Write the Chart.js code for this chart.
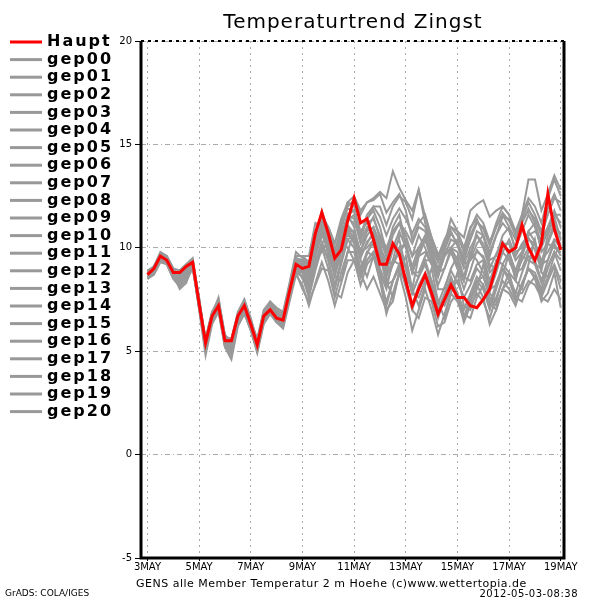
<!DOCTYPE html>
<html>
<head>
<meta charset="utf-8">
<script src="https://cdn.jsdelivr.net/npm/chart.js@4.4.1/dist/chart.umd.min.js"></script>
<style>
    body { margin: 0; background: #fff; }
    canvas { display: block; }
</style>
</head>
<body>
<canvas id="trendChart" width="600" height="600"></canvas>
<script>
// x-Achse: Index in 6-Stunden-Schritten ab 3MAY 00z
const dayTicks = [0, 8, 16, 24, 32, 40, 48, 56, 64];
const dayLabels = ['3MAY', '5MAY', '7MAY', '9MAY', '11MAY', '13MAY', '15MAY', '17MAY', '19MAY'];
const yTicks = [-5, 0, 5, 10, 15, 20];

// Hauptlauf (rot)
const haupt = [8.7, 9.0, 9.6, 9.4, 8.8, 8.8, 9.1, 9.3, 7.3, 5.4, 6.7, 7.2, 5.5, 5.5, 6.7, 7.2,
    6.3, 5.3, 6.7, 7.0, 6.6, 6.5, 7.9, 9.2, 9.0, 9.1, 10.7, 11.7, 10.7, 9.5, 9.9, 11.3,
    12.4, 11.2, 11.4, 10.4, 9.2, 9.2, 10.2, 9.7, 8.4, 7.2, 8.0, 8.7, 7.8, 6.8, 7.5, 8.2,
    7.6, 7.6, 7.2, 7.1, 7.5, 8.0, 9.1, 10.2, 9.8, 10.0, 11.1, 10.0, 9.4, 10.2, 12.6, 10.9, 9.9];

// Ensemble-Member (grau)
const gep00 = [8.6, 8.9, 9.5, 9.5, 8.9, 8.7, 9.0, 9.4, 7.5, 5.2, 6.5, 7.4, 5.6, 5.3, 6.5, 7.3,
    6.4, 5.5, 6.9, 7.2, 6.8, 6.6, 7.7, 8.9, 9.1, 8.6, 10.2, 11.3, 10.5, 9.0, 10.2, 11.6,
    11.8, 10.4, 11.0, 10.6, 9.6, 8.8, 9.9, 10.4, 9.0, 7.8, 8.6, 9.4, 8.4, 7.3, 8.1, 8.9,
    8.3, 7.6, 8.2, 9.0, 8.6, 7.9, 8.8, 9.8, 9.4, 8.6, 9.6, 10.5, 9.9, 8.9, 10.3, 11.2, 10.0];
const gep01 = [8.8, 9.1, 9.7, 9.6, 9.0, 8.6, 8.9, 9.2, 7.2, 5.6, 6.9, 7.5, 5.8, 5.4, 6.8, 7.4,
    6.5, 5.6, 7.0, 7.4, 7.0, 6.8, 8.2, 9.5, 9.4, 9.2, 10.6, 11.5, 11.0, 10.2, 11.2, 12.0,
    12.3, 11.6, 12.2, 12.4, 12.7, 12.4, 13.7, 12.9, 12.3, 11.8, 12.8, 11.2, 10.3, 9.6, 10.4, 11.0,
    10.6, 9.8, 10.9, 11.6, 11.2, 10.3, 11.0, 11.7, 11.3, 10.6, 11.4, 12.2, 11.6, 10.8, 11.9, 12.6, 11.8];
const gep02 = [8.7, 8.9, 9.6, 9.3, 8.6, 8.3, 8.7, 9.1, 7.4, 5.3, 6.6, 7.1, 5.3, 5.2, 6.6, 7.0,
    6.2, 5.2, 6.6, 7.1, 6.7, 6.4, 7.8, 9.3, 9.2, 8.7, 10.0, 10.9, 10.0, 8.9, 10.3, 11.1,
    10.7, 9.8, 10.9, 11.5, 10.4, 9.6, 10.8, 11.2, 10.2, 9.1, 10.0, 10.6, 9.8, 9.0, 9.9, 10.7,
    10.2, 9.6, 10.6, 11.3, 10.9, 10.1, 11.0, 11.6, 11.0, 10.4, 11.6, 13.3, 13.3, 11.8, 12.6, 13.5, 12.8];
const gep03 = [8.5, 8.8, 9.4, 9.2, 8.5, 8.1, 8.4, 9.0, 7.1, 5.0, 6.4, 7.0, 5.2, 4.8, 6.3, 6.9,
    6.0, 5.0, 6.4, 6.8, 6.4, 6.2, 7.5, 8.8, 8.0, 7.4, 8.2, 9.0, 8.9, 7.8, 7.6, 8.8,
    9.4, 8.8, 8.0, 8.6, 7.8, 7.0, 7.4, 8.8, 8.4, 7.0, 6.6, 7.6, 7.4, 6.2, 6.4, 7.4,
    7.8, 6.8, 6.6, 7.6, 8.2, 7.4, 7.0, 8.0, 8.8, 7.6, 7.4, 8.2, 8.6, 7.4, 7.8, 8.8, 7.1];
const gep04 = [8.8, 9.0, 9.7, 9.5, 8.7, 8.0, 8.3, 9.2, 7.3, 5.5, 6.8, 7.6, 5.7, 5.6, 6.9, 7.5,
    6.6, 5.4, 6.8, 7.3, 6.9, 6.7, 8.0, 9.4, 9.3, 8.9, 10.4, 11.8, 10.8, 9.6, 10.8, 12.2,
    12.0, 10.6, 11.4, 11.8, 11.0, 9.8, 11.0, 11.6, 10.2, 8.8, 9.6, 10.4, 9.4, 8.2, 9.0, 9.8,
    9.0, 8.0, 8.9, 9.9, 9.5, 8.4, 9.3, 10.2, 9.7, 8.9, 9.8, 10.8, 10.3, 9.2, 10.6, 11.5, 10.4];
const gep05 = [8.6, 9.0, 9.5, 9.3, 8.8, 8.9, 9.2, 9.4, 7.6, 5.4, 6.6, 7.1, 5.4, 5.1, 6.4, 7.0,
    6.2, 5.1, 6.6, 7.1, 6.7, 6.3, 7.6, 9.0, 8.8, 8.3, 9.6, 10.6, 10.0, 8.8, 10.0, 11.3,
    11.6, 10.5, 11.4, 12.0, 12.0, 11.1, 12.0, 12.5, 12.2, 11.4, 12.8, 11.5, 10.5, 9.7, 10.0, 10.8,
    10.1, 9.2, 10.0, 10.6, 10.0, 9.0, 9.7, 10.3, 9.6, 8.7, 9.4, 10.0, 9.2, 8.3, 9.1, 9.8, 8.9];
const gep06 = [8.7, 9.0, 9.6, 9.5, 8.9, 8.6, 8.8, 9.3, 7.4, 5.3, 6.7, 7.3, 5.5, 5.0, 6.5, 7.2,
    6.3, 5.3, 6.8, 7.0, 6.5, 6.3, 7.7, 9.1, 8.5, 8.0, 9.4, 9.8, 10.4, 8.6, 8.4, 9.8,
    10.8, 9.4, 8.6, 9.6, 10.2, 8.4, 7.6, 8.8, 9.6, 8.0, 7.2, 8.2, 9.0, 7.4, 6.6, 7.8,
    8.8, 7.2, 7.0, 8.0, 9.2, 7.8, 7.4, 8.6, 9.8, 8.4, 8.0, 9.2, 10.4, 8.8, 8.6, 9.6, 10.2];
const gep07 = [8.6, 8.8, 9.5, 9.4, 8.8, 8.4, 8.9, 9.2, 7.2, 5.5, 6.8, 7.4, 5.6, 5.4, 6.7, 7.2,
    6.4, 5.4, 6.9, 7.3, 6.9, 6.6, 7.8, 9.2, 9.0, 8.6, 10.0, 11.0, 10.4, 9.5, 10.6, 11.4,
    11.2, 10.6, 11.6, 12.0, 11.5, 10.6, 11.4, 11.9, 11.4, 10.7, 11.4, 11.0, 10.1, 9.3, 10.2, 11.0,
    10.8, 10.5, 11.8, 12.1, 12.3, 11.5, 11.8, 12.0, 11.6, 10.6, 11.2, 11.9, 11.2, 10.2, 11.0, 11.8, 11.0];
const gep08 = [8.9, 9.1, 9.8, 9.6, 9.0, 8.9, 9.2, 9.5, 7.5, 5.4, 6.7, 7.3, 5.5, 5.5, 6.8, 7.3,
    6.4, 5.4, 6.7, 7.1, 6.7, 6.5, 8.0, 9.6, 9.6, 9.3, 10.8, 11.6, 10.6, 9.3, 10.4, 11.6,
    11.0, 9.6, 10.2, 10.8, 9.8, 8.8, 9.2, 10.0, 10.2, 8.8, 8.8, 9.6, 10.0, 8.8, 9.0, 10.0,
    10.4, 9.2, 9.4, 10.2, 10.6, 9.4, 9.6, 10.6, 11.0, 9.8, 10.0, 10.8, 11.2, 9.8, 10.2, 11.0, 10.7];
const gep09 = [8.5, 8.7, 9.3, 9.2, 8.5, 8.2, 8.5, 9.1, 7.0, 4.8, 6.3, 6.9, 5.2, 4.6, 6.2, 6.8,
    6.0, 4.9, 6.3, 6.8, 6.4, 6.1, 7.4, 8.7, 8.2, 7.2, 8.3, 9.3, 8.4, 7.2, 8.3, 9.4,
    9.4, 8.2, 9.2, 9.6, 8.4, 7.4, 8.4, 9.2, 8.1, 7.0, 8.0, 8.6, 7.6, 6.6, 7.6, 8.4,
    7.8, 7.0, 7.8, 8.6, 8.2, 7.2, 8.3, 9.0, 8.4, 7.5, 8.3, 9.0, 8.5, 7.6, 8.4, 9.1, 8.0];
const gep10 = [8.7, 9.0, 9.6, 9.4, 8.7, 8.5, 8.9, 9.3, 7.3, 5.4, 6.7, 7.3, 5.5, 5.4, 6.7, 7.3,
    6.3, 5.3, 6.7, 7.0, 6.6, 6.4, 7.8, 9.1, 9.3, 8.5, 9.2, 10.2, 10.6, 9.0, 9.4, 10.8,
    10.2, 8.8, 9.7, 10.4, 9.6, 8.6, 9.4, 10.6, 10.4, 9.6, 10.6, 10.0, 9.2, 8.6, 9.8, 9.9,
    9.0, 8.4, 9.6, 10.6, 10.2, 9.2, 9.0, 9.8, 10.4, 9.6, 10.2, 10.6, 10.8, 10.4, 11.0, 11.6, 11.6];
const gep11 = [8.8, 9.1, 9.7, 9.5, 8.9, 8.7, 9.0, 9.4, 7.4, 5.6, 6.9, 7.4, 5.7, 5.5, 6.8, 7.5,
    6.5, 5.5, 6.9, 7.4, 7.1, 6.9, 8.3, 9.8, 9.5, 9.2, 10.6, 11.6, 11.0, 10.2, 11.4, 12.2,
    12.5, 11.8, 12.2, 12.3, 12.6, 11.7, 12.2, 12.6, 11.8, 10.4, 11.2, 11.6, 10.5, 9.4, 10.2, 11.4,
    10.8, 10.0, 11.0, 11.4, 10.6, 9.6, 10.6, 11.5, 11.4, 10.7, 11.3, 11.8, 11.4, 10.6, 11.6, 12.4, 12.2];
const gep12 = [8.6, 8.9, 9.5, 9.3, 8.6, 8.4, 8.8, 9.2, 7.2, 5.2, 6.5, 7.2, 5.4, 5.3, 6.6, 7.1,
    6.2, 5.2, 6.6, 6.9, 6.5, 6.4, 7.7, 8.9, 8.8, 8.0, 9.3, 10.3, 9.4, 8.0, 9.2, 10.4,
    10.6, 9.5, 10.3, 10.6, 9.6, 8.3, 9.2, 10.0, 9.0, 7.8, 8.6, 9.2, 8.2, 7.0, 7.8, 8.6,
    7.8, 6.6, 7.4, 8.2, 7.6, 6.3, 7.0, 8.0, 7.8, 7.2, 8.2, 9.0, 8.8, 8.0, 9.0, 9.8, 9.4];
const gep13 = [8.7, 9.0, 9.6, 9.5, 8.8, 8.6, 9.0, 9.3, 7.3, 5.3, 6.6, 7.2, 5.4, 5.2, 6.6, 7.2,
    6.3, 5.2, 6.6, 7.0, 6.6, 6.4, 7.9, 9.4, 9.4, 9.0, 9.8, 10.6, 10.8, 10.0, 10.2, 10.6,
    10.4, 9.8, 10.0, 10.4, 10.6, 10.0, 10.8, 11.2, 10.6, 9.6, 10.0, 10.4, 10.0, 9.4, 9.6, 10.0,
    9.8, 9.0, 9.4, 9.8, 9.6, 8.8, 9.2, 10.2, 10.2, 9.4, 9.8, 10.4, 10.2, 9.4, 9.8, 10.4, 10.0];
const gep14 = [8.6, 8.9, 9.5, 9.4, 8.7, 8.4, 8.7, 9.2, 7.2, 5.1, 6.4, 7.0, 5.3, 4.9, 6.4, 7.0,
    6.1, 5.1, 6.5, 6.9, 6.4, 6.2, 7.6, 8.8, 8.6, 7.6, 8.9, 10.0, 9.0, 7.6, 8.8, 9.8,
    9.8, 8.6, 9.4, 9.8, 8.4, 6.8, 7.8, 8.8, 7.6, 6.0, 7.0, 8.0, 7.0, 5.8, 6.8, 7.8,
    7.4, 6.6, 7.6, 8.4, 8.0, 7.0, 8.0, 9.0, 8.6, 7.8, 8.8, 9.6, 9.4, 8.4, 9.4, 10.2, 9.6];
const gep15 = [8.8, 9.0, 9.6, 9.4, 8.8, 8.8, 9.0, 9.3, 7.3, 5.4, 6.7, 7.3, 5.6, 5.6, 6.8, 7.3,
    6.4, 5.4, 6.8, 7.2, 6.8, 6.6, 8.0, 9.6, 9.6, 9.6, 11.2, 11.0, 9.6, 8.8, 10.4, 10.0,
    9.4, 8.6, 9.8, 9.6, 8.8, 8.0, 9.4, 9.2, 8.6, 8.0, 9.6, 9.8, 9.2, 8.8, 10.0, 9.8,
    9.2, 8.6, 9.8, 9.4, 8.8, 8.2, 9.4, 9.2, 8.8, 8.4, 9.6, 9.4, 9.2, 9.0, 10.2, 10.0, 9.8];
const gep16 = [8.7, 9.0, 9.6, 9.4, 8.8, 8.7, 9.1, 9.4, 7.5, 5.6, 6.8, 7.2, 5.5, 5.4, 6.7, 7.1,
    6.3, 5.3, 6.7, 7.1, 6.7, 6.5, 7.9, 9.3, 9.1, 8.7, 10.0, 11.0, 10.2, 9.4, 10.6, 11.6,
    11.4, 10.2, 10.8, 11.0, 10.2, 9.0, 10.0, 10.8, 10.0, 8.8, 9.8, 10.4, 9.6, 8.6, 9.6, 10.4,
    10.2, 9.4, 10.4, 11.2, 11.0, 10.2, 11.2, 12.0, 11.6, 10.8, 11.6, 12.4, 12.0, 11.2, 12.4, 13.3, 12.5];
const gep17 = [8.6, 8.9, 9.6, 9.4, 8.7, 8.6, 9.0, 9.3, 7.4, 5.3, 6.6, 7.2, 5.4, 5.2, 6.6, 7.2,
    6.3, 5.2, 6.7, 7.1, 6.7, 6.4, 7.7, 9.0, 8.8, 8.2, 9.6, 10.8, 10.2, 9.0, 10.2, 11.0,
    10.4, 9.0, 9.8, 10.2, 9.0, 8.2, 8.4, 9.0, 9.2, 7.8, 7.6, 8.4, 8.4, 7.4, 7.2, 8.0,
    8.4, 7.6, 7.4, 8.4, 8.6, 7.6, 7.2, 8.0, 8.4, 7.8, 7.8, 8.4, 8.2, 7.6, 7.4, 8.0, 7.5];
const gep18 = [8.7, 9.0, 9.7, 9.5, 8.8, 8.3, 8.6, 9.2, 7.2, 5.4, 6.7, 7.3, 5.5, 5.3, 6.7, 7.3,
    6.4, 5.4, 6.8, 7.2, 6.7, 6.5, 7.8, 9.2, 9.2, 8.8, 10.2, 11.2, 10.6, 9.8, 11.0, 11.9,
    11.8, 10.8, 11.2, 11.4, 10.6, 9.6, 10.6, 11.2, 10.8, 10.2, 11.0, 10.8, 9.8, 8.8, 9.6, 10.0,
    9.4, 8.4, 9.6, 10.8, 10.6, 9.8, 10.6, 11.2, 10.8, 10.0, 10.8, 11.6, 11.0, 10.0, 10.8, 11.6, 11.2];
const gep19 = [8.6, 8.9, 9.5, 9.4, 8.8, 8.7, 9.0, 9.3, 7.3, 5.3, 6.6, 7.1, 5.4, 5.3, 6.6, 7.1,
    6.2, 5.2, 6.6, 7.0, 6.6, 6.4, 7.8, 9.1, 8.9, 8.4, 9.8, 10.8, 9.8, 8.6, 9.8, 10.8,
    10.8, 9.8, 10.6, 11.0, 10.0, 9.4, 9.2, 9.8, 10.2, 8.8, 8.6, 9.4, 9.4, 8.0, 8.0, 9.0,
    9.6, 8.6, 8.4, 9.2, 9.4, 8.0, 8.2, 9.2, 9.8, 8.8, 9.0, 9.8, 10.2, 9.2, 9.4, 10.4, 10.2];
const gep20 = [8.5, 8.8, 9.4, 9.3, 8.6, 8.4, 8.7, 9.1, 7.1, 5.1, 6.5, 7.1, 5.3, 5.0, 6.4, 7.0,
    6.1, 5.0, 6.5, 6.9, 6.5, 6.3, 7.6, 8.9, 8.6, 7.8, 9.0, 10.2, 9.4, 8.2, 9.4, 10.4,
    10.0, 8.6, 9.4, 9.8, 8.8, 7.2, 8.4, 9.2, 8.4, 7.2, 8.2, 8.8, 8.0, 6.8, 7.6, 8.4,
    7.6, 6.4, 7.2, 7.8, 7.4, 6.6, 7.6, 8.4, 8.0, 7.4, 8.2, 9.0, 8.6, 7.8, 8.6, 9.2, 8.4];

const members = [gep00, gep01, gep02, gep03, gep04, gep05, gep06, gep07, gep08, gep09, gep10,
    gep11, gep12, gep13, gep14, gep15, gep16, gep17, gep18, gep19, gep20];

const toPoints = (arr) => arr.map((v, i) => ({ x: i, y: v }));

const datasets = [{
    label: 'Haupt',
    data: toPoints(haupt),
    borderColor: 'rgb(255, 0, 0)',
    borderWidth: 3
}];
members.forEach((m, k) => {
    datasets.push({
        label: 'gep' + String(k).padStart(2, '0'),
        data: toPoints(m),
        borderColor: 'rgb(153, 153, 153)',
        borderWidth: 2
    });
});

// GrADS-artige Beschriftung, Legende und Rahmen
const gradsDecor = {
    id: 'gradsDecor',
    afterDraw(chart) {
        const { ctx, chartArea } = chart;
        ctx.save();

        // Rahmen
        ctx.strokeStyle = '#000';
        ctx.lineWidth = 3;
        ctx.setLineDash([]);
        ctx.beginPath();
        ctx.moveTo(chartArea.left, chartArea.top);
        ctx.lineTo(chartArea.left, chartArea.bottom);
        ctx.lineTo(chartArea.right, chartArea.bottom);
        ctx.lineTo(chartArea.right, chartArea.top);
        ctx.stroke();
        ctx.lineWidth = 2;
        ctx.setLineDash([3, 4]);
        ctx.beginPath();
        ctx.moveTo(chartArea.left, chartArea.top);
        ctx.lineTo(chartArea.right, chartArea.top);
        ctx.stroke();
        ctx.setLineDash([]);

        // Titel
        ctx.fillStyle = '#000';
        ctx.font = '20px "DejaVu Sans"';
        ctx.letterSpacing = '1px';
        ctx.textAlign = 'center';
        ctx.textBaseline = 'middle';
        ctx.fillText('Temperaturtrend Zingst', 353, 23);

        // Legende
        ctx.font = 'bold 16px "DejaVu Sans"';
        ctx.letterSpacing = '2px';
        ctx.textAlign = 'left';
        chart.data.datasets.forEach((ds, k) => {
            const y = 42 + k * 17.6;
            ctx.strokeStyle = ds.borderColor;
            ctx.lineWidth = 3;
            ctx.beginPath();
            ctx.moveTo(10, y);
            ctx.lineTo(42, y);
            ctx.stroke();
            ctx.fillStyle = '#000';
            ctx.fillText(ds.label, 47, y);
        });

        // Fusszeilen
        ctx.letterSpacing = '0.5px';
        ctx.font = '11px "DejaVu Sans"';
        ctx.fillText('GENS alle Member Temperatur 2 m Hoehe (c)www.wettertopia.de', 136, 584);
        ctx.font = '10px "DejaVu Sans"';
        ctx.textAlign = 'right';
        ctx.fillText('2012-05-03-08:38', 578, 594);
        ctx.font = '9px "DejaVu Sans"';
        ctx.letterSpacing = '0px';
        ctx.textAlign = 'left';
        ctx.fillText('GrADS: COLA/IGES', 5, 594);

        ctx.restore();
    }
};

new Chart(document.getElementById('trendChart'), {
    type: 'line',
    data: { datasets: datasets },
    options: {
        responsive: false,
        animation: false,
        layout: { padding: { left: 101, right: 36, top: 41, bottom: 0 } },
        elements: {
            point: { radius: 0 },
            line: { tension: 0 }
        },
        plugins: {
            legend: { display: false },
            tooltip: { enabled: false }
        },
        scales: {
            x: {
                type: 'linear',
                min: -1,
                max: 64.5,
                afterBuildTicks: (scale) => {
                    scale.ticks = dayTicks.map(v => ({ value: v }));
                },
                afterFit: (scale) => { scale.height = 42; },
                grid: {
                    color: '#aaaaaa',
                    lineWidth: 1,
                    tickLength: 3,
                    tickColor: '#000'
                },
                border: { display: false, dash: [2, 4] },
                ticks: {
                    autoSkip: false,
                    maxRotation: 0,
                    padding: 0,
                    color: '#000',
                    font: { family: 'DejaVu Sans', size: 10 },
                    callback: (value) => dayLabels[dayTicks.indexOf(value)] || ''
                }
            },
            y: {
                min: -5,
                max: 20,
                afterBuildTicks: (scale) => {
                    scale.ticks = yTicks.map(v => ({ value: v }));
                },
                afterFit: (scale) => { scale.width = 40; },
                grid: {
                    color: '#aaaaaa',
                    lineWidth: 1,
                    tickLength: 6,
                    tickColor: '#000'
                },
                border: { display: false, dash: [5, 3, 1, 3] },
                ticks: {
                    padding: 3,
                    color: '#000',
                    font: { family: 'DejaVu Sans', size: 10 }
                }
            }
        }
    },
    plugins: [gradsDecor]
});
</script>
</body>
</html>
